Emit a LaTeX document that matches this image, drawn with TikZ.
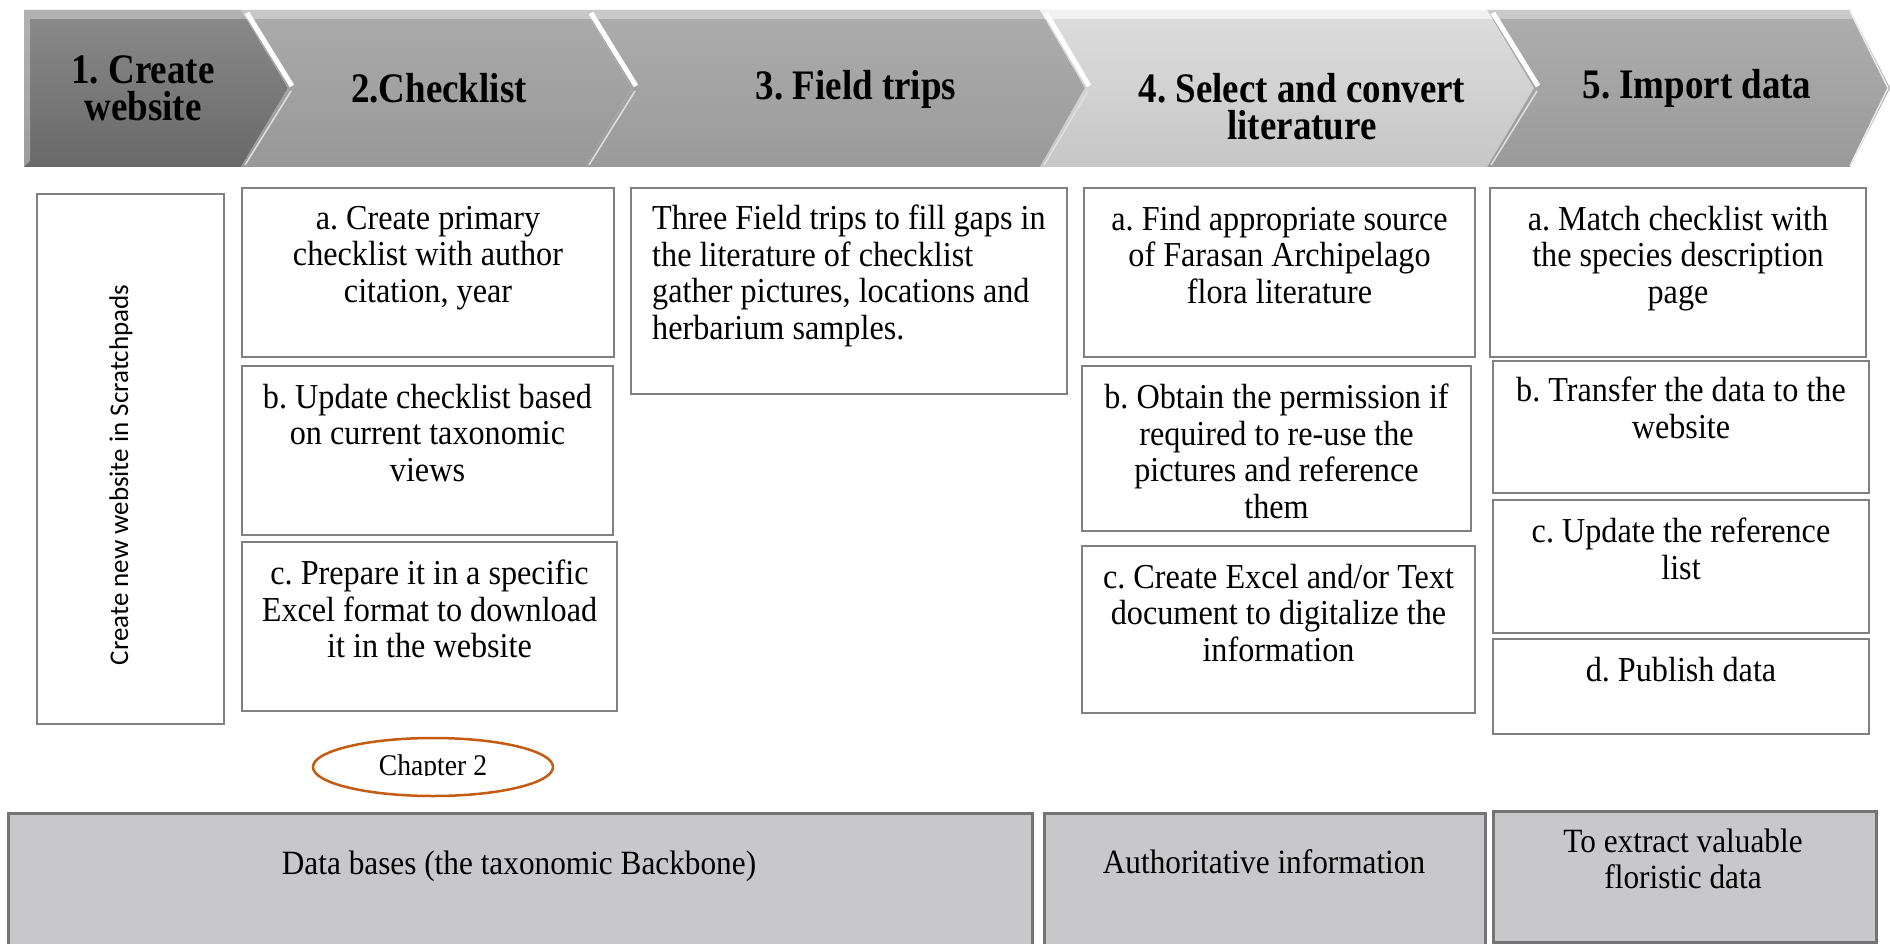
\documentclass[tikz,border=0pt]{standalone}
\usepackage{fontspec}
\setmainfont{Liberation Serif}[FakeStretch=0.92]
\newfontfamily\hdrfont{Liberation Serif}[FakeStretch=0.88]
\newfontfamily\calib{Carlito}
\usetikzlibrary{shapes.geometric}
\definecolor{edge}{HTML}{808080}
\definecolor{bedge}{HTML}{747474}
\definecolor{bfill}{HTML}{C8C8CA}
\definecolor{chapc}{HTML}{C55A11}
\definecolor{cAt}{HTML}{8A8A8A}\definecolor{cAb}{HTML}{696969}
\definecolor{cBt}{HTML}{ABABAB}\definecolor{cBb}{HTML}{989898}
\definecolor{cCt}{HTML}{ADADAD}\definecolor{cCb}{HTML}{9A9A9A}
\definecolor{cDt}{HTML}{DEDEDE}\definecolor{cDb}{HTML}{C6C6C6}
\definecolor{cEt}{HTML}{AEAEAE}\definecolor{cEb}{HTML}{9A9A9A}
\begin{document}
\frenchspacing
\begin{tikzpicture}[x=1pt,y=-1pt,
  bx/.style={draw=edge, line width=2pt, inner sep=0pt, anchor=north west},
  bbx/.style={draw=bedge, fill=bfill, line width=2.5pt, inner sep=0pt, anchor=north west},
  body/.style={font=\fontsize{35}{36.5}\selectfont, align=center, inner sep=0pt, anchor=north},
  hdr/.style={font=\hdrfont\fontsize{42}{37}\selectfont\bfseries, align=center, inner sep=0pt},
  hilite/.style={white, line width=5pt},
  lowlite/.style={white!75!gray, line width=1.5pt},
  topbevel/.style={white, opacity=0.35}]
\useasboundingbox (0,0) rectangle (1890,944);
\clip (0,0) rectangle (1890,944);

% ---- chevrons ----
\shade[top color=cAt, bottom color=cAb] (24,10) -- (241,10) -- (288,88) -- (241,167) -- (24,167) -- cycle;
\shade[top color=cBt, bottom color=cBb] (241,10) -- (585,10) -- (632,88) -- (585,167) -- (241,167) -- (288,88) -- cycle;
\shade[top color=cCt, bottom color=cCb] (585,10) -- (1040,10) -- (1085,88) -- (1040,167) -- (585,167) -- (632,88) -- cycle;
\shade[top color=cDt, bottom color=cDb] (1040,10) -- (1487,10) -- (1534,88) -- (1487,167) -- (1040,167) -- (1085,88) -- cycle;
\shade[top color=cEt, bottom color=cEb] (1487,10) -- (1850,10) -- (1890,88) -- (1850,167) -- (1487,167) -- (1534,88) -- cycle;
% top bevels
\fill[topbevel] (24,10) -- (241,10) -- (246,19) -- (30,19) -- cycle;
\fill[topbevel] (24,10) -- (30,19) -- (30,161) -- (24,167) -- cycle;
\fill[topbevel] (241,10) -- (585,10) -- (590,19) -- (246,19) -- cycle;
\fill[topbevel] (585,10) -- (1040,10) -- (1045,19) -- (590,19) -- cycle;
\fill[white, opacity=0.6] (1040,10) -- (1487,10) -- (1492,19) -- (1045,19) -- cycle;
\fill[topbevel] (1487,10) -- (1850,10) -- (1855,19) -- (1492,19) -- cycle;
% notch highlights
\draw[hilite] (247,13) -- (292,86);
\draw[hilite] (591,13) -- (636,86);
\draw[hilite] (1046,13) -- (1089,86);
\draw[hilite] (1493,13) -- (1538,86);
\draw[lowlite] (291,91) -- (245,165);
\draw[lowlite] (635,91) -- (589,165);
\draw[lowlite] (1088,91) -- (1044,165);
\draw[lowlite] (1537,91) -- (1491,165);
\draw[white!85!gray, line width=1.5pt] (1850,11) -- (1888,88) -- (1850,166);

\node[hdr] (h1) at (143,88) {1. Create\\website};
\node[hdr] (h2) at (439,88) {2.Checklist};
\node[hdr] (h3) at (856,89) {3. Field trips};
\node[hdr] (h4) at (1302,107) {4. Select and convert\\literature};
\node[hdr] (h5) at (1697,88) {5. Import data};

% ---- column boxes ----
\node[bx, minimum width=187pt, minimum height=530pt] (v1) at (36,193) {};
\node[rotate=90, font=\calib\fontsize{27}{30}\selectfont, inner sep=0pt] (v1t) at (121,475) {Create new website in Scratchpads};

\node[bx, minimum width=372pt, minimum height=169pt] (c2a) at (241,187) {};
\node[bx, minimum width=371pt, minimum height=169pt] (c2b) at (241,365) {};
\node[bx, minimum width=375pt, minimum height=169pt] (c2c) at (241,541) {};
\node[body] (t2a) at ([yshift=-19pt]c2a.north) {a. Create primary\\checklist with author\\citation, year};
\node[body] (t2b) at ([yshift=-19pt]c2b.north) {b. Update checklist based\\on current taxonomic\\views};
\node[body] (t2c) at ([yshift=-19pt]c2c.north) {c. Prepare it in a specific\\Excel format to download\\it in the website};

\node[bx, minimum width=436pt, minimum height=206pt] (c3) at (630,187) {};
\node[body, anchor=north west, align=left] (t3) at (652,205) {Three Field trips to fill gaps in\\the literature of checklist\\gather pictures, locations and\\herbarium samples.};

\node[bx, minimum width=391pt, minimum height=169pt] (c4a) at (1083,187) {};
\node[bx, minimum width=389pt, minimum height=165pt] (c4b) at (1081,365) {};
\node[bx, minimum width=393pt, minimum height=167pt] (c4c) at (1081,545) {};
\node[body] (t4a) at ([yshift=-19pt]c4a.north) {a. Find appropriate source\\of Farasan Archipelago\\flora literature};
\node[body] (t4b) at ([yshift=-19pt]c4b.north) {b. Obtain the permission if\\required to re-use the\\pictures and reference\\them};
\node[body] (t4c) at ([yshift=-19pt]c4c.north) {c. Create Excel and/or Text\\document to digitalize the\\information};

\node[bx, minimum width=376pt, minimum height=169pt] (c5a) at (1489,187) {};
\node[bx, minimum width=376pt, minimum height=132pt] (c5b) at (1492,360) {};
\node[bx, minimum width=376pt, minimum height=133pt] (c5c) at (1492,499) {};
\node[bx, minimum width=376pt, minimum height=95pt] (c5d) at (1492,638) {};
\node[body] (t5a) at ([yshift=-19pt]c5a.north) {a. Match checklist with\\the species description\\page};
\node[body] (t5b) at ([yshift=-17pt]c5b.north) {b. Transfer the data to the\\website};
\node[body] (t5c) at ([yshift=-19pt]c5c.north) {c. Update the reference\\list};
\node[body] (t5d) at ([yshift=-19pt]c5d.north) {d. Publish data};

% ---- chapter ellipse ----
\node[ellipse, draw=chapc, line width=2.5pt, minimum width=240pt, minimum height=58pt, inner sep=0pt] (chap) at (433,767) {};
\begin{scope}
\clip (300,730) rectangle (560,775);
\node[font=\fontsize{30}{32}\selectfont, anchor=base, inner sep=0pt] (chapt) at (433,775) {Chapter 2};
\end{scope}

% ---- bottom boxes ----
\node[bbx, minimum width=1024pt, minimum height=140pt] (db) at (7,812) {};
\node[bbx, minimum width=441pt, minimum height=140pt] (au) at (1043,812) {};
\node[bbx, minimum width=383pt, minimum height=131pt] (ex) at (1492,810) {};
\node[font=\fontsize{34}{36.5}\selectfont, inner sep=0pt] (dbt) at (519,866) {Data bases (the taxonomic Backbone)};
\node[font=\fontsize{34}{36.5}\selectfont, inner sep=0pt] (aut) at (1264,862) {Authoritative information};
\node[font=\fontsize{34}{36.5}\selectfont, align=center, inner sep=0pt] (ext) at (1683,859) {To extract valuable\\floristic data};
\end{tikzpicture}
\end{document}
